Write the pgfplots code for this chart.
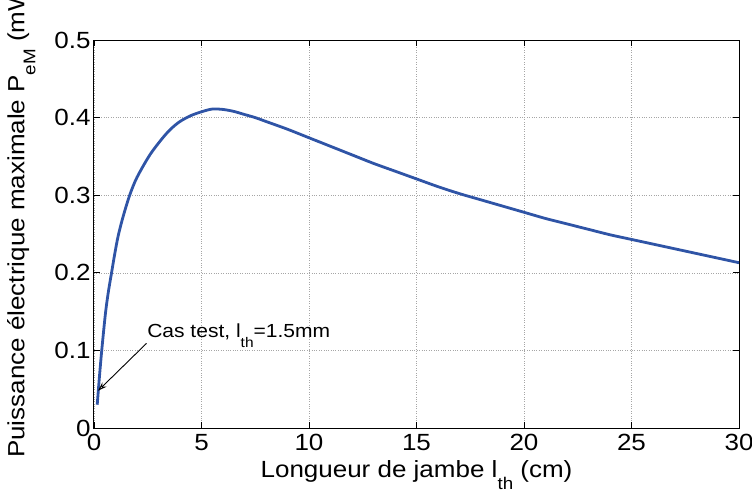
\documentclass[border=0pt]{standalone}
\usepackage{pgfplots}
\pgfplotsset{compat=1.18}
\usetikzlibrary{arrows.meta}
\usepackage{fontspec}
\setmainfont{Liberation Sans}[FakeStretch=1.11]
\definecolor{courbe}{RGB}{47,84,166}
% indice a la MATLAB : bas, sommet au niveau de la ligne de base
\newcommand{\sub}[2]{\raisebox{-0.95\height}{\fontsize{#1}{#1}\selectfont #2}}
\begin{document}
\begin{tikzpicture}
\begin{axis}[
  scale only axis,
  width=645bp, height=388bp,
  xmin=0, xmax=30, ymin=0, ymax=0.5,
  xtick={0,5,...,30}, ytick={0,0.1,...,0.5},
  grid=major,
  grid style={dotted, gray!70, line width=0.6bp},
  tick align=inside,
  major tick length=6bp,
  axis line style={line width=1bp},
  every tick/.style={black, line width=0.8bp},
  /pgf/number format/assume math mode=true,
  /pgf/number format/fixed,
  yticklabel style={/pgf/number format/precision=1, font=\fontsize{23.5}{24}\selectfont},
  xticklabel style={font=\fontsize{23.5}{24}\selectfont, yshift=-3bp},
  label style={font=\fontsize{23.5}{26}\selectfont},
  xlabel={Longueur de jambe l\sub{17}{th} (cm)},
  ylabel={Puissance électrique maximale P\sub{17}{eM} (mW)},
  xlabel style={yshift=-3bp},
  ylabel style={yshift=12bp, xshift=16bp},
]
\addplot[courbe, line width=2.8bp, smooth] coordinates {
  (0.15,0.030) (0.25,0.065) (0.36,0.100) (0.53,0.147) (0.66,0.174)
  (0.81,0.199) (0.95,0.222) (1.12,0.247) (1.35,0.272) (1.66,0.300)
  (2.0,0.323) (2.6,0.352) (3.2,0.374) (3.6,0.386) (4.0,0.395)
  (4.5,0.4025) (5.0,0.4075) (5.5,0.411) (6.0,0.4105) (6.5,0.408)
  (7.0,0.404) (7.5,0.400) (8.0,0.395) (9.0,0.385) (10.0,0.374)
  (11.0,0.363) (12.0,0.352) (13.0,0.341) (14.0,0.331) (15.0,0.321)
  (16.0,0.311) (17.0,0.302) (18.0,0.294) (19.0,0.286) (20.0,0.278)
  (21,0.270) (22,0.263) (23,0.256) (24,0.249) (25,0.243)
  (26,0.237) (27,0.231) (28,0.225) (29,0.219) (30,0.213)
};
\draw[-{Stealth[length=9bp, width=6bp, open]}, line width=0.9bp]
  (axis cs:2.44,0.109) -- (axis cs:0.19,0.048);
\node[anchor=base west, inner sep=0pt, font=\fontsize{19}{19}\selectfont]
  at (axis cs:2.47,0.1166) {Cas test, l\sub{14}{th}=1.5mm};
\end{axis}
\pgfresetboundingbox
\path ([shift={(-94bp,-67bp)}]current axis.south west) rectangle ([shift={(13bp,40bp)}]current axis.north east);
\end{tikzpicture}
\end{document}
